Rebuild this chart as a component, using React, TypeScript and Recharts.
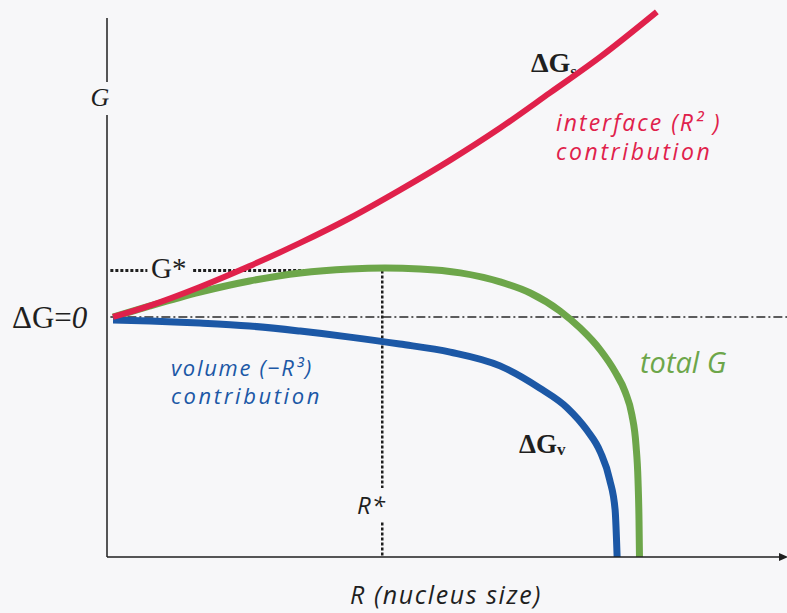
import { Customized, Line, LineChart, ReferenceLine, XAxis, YAxis } from 'recharts'

// Free energy of a nucleus against its radius R, in arbitrary units.
// R runs 0..10 across the axis, G is 0 on the dash-dot line.

const interfaceR = [0.09, 0.64, 1.38, 2.12, 2.87, 3.61, 4.35, 5.1, 5.84, 6.58, 7.33, 8.17]
const interfaceG = [0, 0.38, 1.0, 1.7, 2.47, 3.3, 4.23, 5.23, 6.3, 7.47, 8.67, 10.17]

const totalR = [0.09, 0.64, 1.38, 2.12, 2.87, 3.61, 4.13, 4.65, 5.25, 5.84, 6.29, 6.73, 7.03, 7.33, 7.55, 7.7, 7.8, 7.86, 7.89, 7.905, 7.912]
const totalG = [0, 0.37, 0.83, 1.2, 1.47, 1.6, 1.63, 1.6, 1.47, 1.17, 0.8, 0.2, -0.37, -1.1, -1.83, -2.5, -3.27, -4.27, -5.43, -6.77, -8]

const volumeR = [0.09, 0.64, 1.38, 2.12, 2.87, 3.61, 4.35, 5.1, 5.84, 6.43, 6.84, 7.13, 7.33, 7.47, 7.55, 7.58]
const volumeG = [-0.1, -0.13, -0.2, -0.3, -0.47, -0.67, -0.9, -1.17, -1.63, -2.37, -3.03, -3.77, -4.5, -5.43, -6.43, -8]

// critical nucleus
const rStar = 4.09
const gStar = 1.55

const toPoints = (rs: number[], gs: number[]) => rs.map((r, i) => ({ r, g: gs[i] }))

const interfaceData = toPoints(interfaceR, interfaceG)
const totalData = toPoints(totalR, totalG)
const volumeData = toPoints(volumeR, volumeG)

const RED = '#e0214b'
const GREEN = '#6da64a'
const BLUE = '#1c58a6'
const INK = '#1f1f1f'

const serif = '"Liberation Serif", "DejaVu Serif", serif'
const sans = '"Open Sans", "DejaVu Sans", sans-serif'

function Labels() {
  return (
    <g>
      <text x={100} y={106} textAnchor="middle" fontFamily={serif} fontStyle="italic" fontSize={26} fill={INK}>
        G
      </text>
      <text x={12} y={328} fontFamily={serif} fontSize={31} fill={INK}>
        ΔG=<tspan fontStyle="italic">0</tspan>
      </text>
      <text x={151} y={278} fontFamily={serif} fontSize={29} fill={INK}>
        G*
      </text>
      <text x={357} y={514} fontFamily={sans} fontStyle="italic" fontSize={24} fill={INK} letterSpacing={1}>
        R*
      </text>
      <text x={446} y={604} textAnchor="middle" fontFamily={sans} fontStyle="italic" fontSize={25} fill={INK} letterSpacing={1.6}>
        R (nucleus size)
      </text>

      <text x={531} y={72} fontFamily={serif} fontWeight="bold" fontSize={28} fill={INK}>
        ΔG<tspan fontSize={17} dy={5}>s</tspan>
      </text>
      <text x={519} y={453} fontFamily={serif} fontWeight="bold" fontSize={27} fill={INK}>
        ΔG<tspan fontSize={17} dy={2}>v</tspan>
      </text>

      <text x={556} y={131} fontFamily={sans} fontStyle="italic" fontSize={23} fill={RED} letterSpacing={2}>
        interface (R² )
      </text>
      <text x={556} y={160} fontFamily={sans} fontStyle="italic" fontSize={23} fill={RED} letterSpacing={2.6}>
        contribution
      </text>

      <text x={171} y={376} fontFamily={sans} fontStyle="italic" fontSize={22} fill={BLUE} letterSpacing={1.7}>
        volume (−R³)
      </text>
      <text x={171} y={404} fontFamily={sans} fontStyle="italic" fontSize={22} fill={BLUE} letterSpacing={2.6}>
        contribution
      </text>

      <text x={640} y={373} fontFamily={sans} fontStyle="italic" fontSize={29} fill={GREEN}>
        total G
      </text>
    </g>
  )
}

export default function App() {
  return (
    <div style={{ position: 'fixed', left: 0, top: 0, width: 787, height: 613, background: '#f7f7f9' }}>
      <LineChart width={787} height={613} margin={{ top: 2, right: 7, left: 107, bottom: 26 }}>
        <defs>
          <marker id="axis-arrow" markerUnits="userSpaceOnUse" markerWidth={9} markerHeight={9} refX={1} refY={4.5} orient="auto">
            <path d="M0,0.5 L9,4.5 L0,8.5 z" fill={INK} />
          </marker>
        </defs>
        <XAxis
          type="number"
          dataKey="r"
          domain={[0, 10]}
          allowDataOverflow
          tick={false}
          tickLine={false}
          height={30}
          axisLine={{ stroke: INK, strokeWidth: 1.5, markerEnd: 'url(#axis-arrow)' }}
        />
        <YAxis type="number" dataKey="g" domain={[-8, 10.5]} allowDataOverflow hide />

        {/* y axis, broken where the G label sits */}
        <ReferenceLine segment={[{ x: 0, y: -8 }, { x: 0, y: 6.73 }]} stroke={INK} strokeWidth={1.5} />
        <ReferenceLine segment={[{ x: 0, y: 7.83 }, { x: 0, y: 9.97 }]} stroke={INK} strokeWidth={1.5} />

        {/* G = 0 */}
        <ReferenceLine
          segment={[{ x: 0.05, y: 0 }, { x: 10.2, y: 0 }]}
          ifOverflow="visible"
          stroke="#2a2a2a"
          strokeWidth={1.3}
          strokeDasharray="9 3 2 3"
        />

        {/* G* and R* guides */}
        <ReferenceLine segment={[{ x: 0.05, y: gStar }, { x: 0.6, y: gStar }]} stroke={INK} strokeWidth={3} strokeDasharray="3 2" />
        <ReferenceLine segment={[{ x: 1.28, y: gStar }, { x: 3.2, y: gStar }]} stroke={INK} strokeWidth={3} strokeDasharray="3 2" />
        <ReferenceLine segment={[{ x: rStar, y: gStar }, { x: rStar, y: -5.7 }]} stroke={INK} strokeWidth={2.5} strokeDasharray="3 2" />
        <ReferenceLine segment={[{ x: rStar, y: -6.85 }, { x: rStar, y: -8 }]} stroke={INK} strokeWidth={2.5} strokeDasharray="3 2" />

        <Line data={totalData} dataKey="g" type="monotone" stroke={GREEN} strokeWidth={7} dot={false} isAnimationActive={false} />
        <Line data={volumeData} dataKey="g" type="monotone" stroke={BLUE} strokeWidth={7} dot={false} isAnimationActive={false} />
        <Line data={interfaceData} dataKey="g" type="monotone" stroke={RED} strokeWidth={6} dot={false} isAnimationActive={false} />

        <Customized component={Labels} />
      </LineChart>
    </div>
  )
}
